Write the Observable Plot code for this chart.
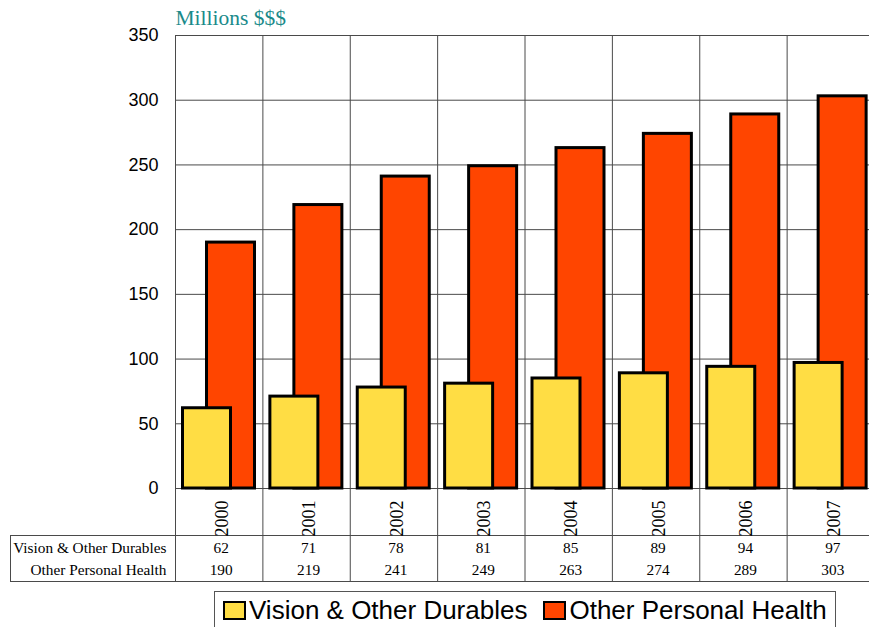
<!DOCTYPE html>
<html><head><meta charset="utf-8">
<script src="https://cdn.jsdelivr.net/npm/d3@7"></script>
<script src="https://cdn.jsdelivr.net/npm/@observablehq/plot@0.6"></script>
<style>
html,body{margin:0;padding:0;overflow:hidden;background:#fff;}
#wrap{position:relative;width:874px;height:627px;}
#legend{position:absolute;left:214px;top:591px;width:622px;height:40px;border:1px solid #555;box-sizing:border-box;background:#fff;
  font-family:Arial,"Liberation Sans",sans-serif;font-size:26px;color:#000;display:flex;align-items:flex-start;padding:3px 0 0 8px;white-space:nowrap;}
.item{display:flex;align-items:center;margin-right:16px;}
.sw{width:19px;height:15px;border:2.5px solid #000;margin-right:3px;}
</style></head>
<body><div id="wrap"><div id="chart"></div><div id="legend"></div></div>
<script>
const years = ["2000","2001","2002","2003","2004","2005","2006","2007"];
const vision = [62,71,78,81,85,89,94,97];
const personal = [190,219,241,249,263,274,289,303];
const seriesNames = ["Vision & Other Durables","Other Personal Health"];
const seriesColors = ["#FFDD44","#FF4500"];
const yTicks = [0,50,100,150,200,250,300,350];
const titleText = "Millions $$$";

const W = 874, ML = 175;
const bw = (W - ML) / years.length;
const rows = years.map((y,i)=>({year:y, vision:vision[i], personal:personal[i]}));
const serif = "'Liberation Serif','Times New Roman',serif";
const grid = "#4a4a4a";

const chart = Plot.plot({
  width: W, height: 627,
  marginLeft: ML, marginRight: 0, marginTop: 35, marginBottom: 139,
  style: {fontFamily: "Arial, 'Liberation Sans', sans-serif", fontSize: "18px", background: "#fff", color: "#000"},
  x: {domain: years, padding: 0, round: false, axis: null},
  y: {domain: [0,350], ticks: yTicks, tickSize: 0, tickPadding: 17, label: null},
  marks: [
    Plot.ruleY(yTicks, {stroke: grid, strokeWidth: 1}),
    Plot.ruleX(years, {x: d=>d, dx: -bw/2, stroke: grid, insetBottom: -93}),
    Plot.ruleY([0], {dy: 47, insetLeft: -165, stroke: grid}),
    Plot.ruleY([0], {dy: 93, insetLeft: -165, stroke: grid}),
    Plot.ruleX([years[0]], {x: d=>d, dx: -bw/2 - 165, insetTop: 500, insetBottom: -93, stroke: grid}),
    Plot.barY(rows, {x: "year", y: "personal", fill: seriesColors[1], stroke: "#000", strokeWidth: 3, insetLeft: 31.5, insetRight: bw - 79.5}),
    Plot.barY(rows, {x: "year", y: "vision", fill: seriesColors[0], stroke: "#000", strokeWidth: 3, insetLeft: 7.5, insetRight: bw - 55.5}),
    Plot.text(years, {x: d=>d, frameAnchor: "bottom", lineAnchor: "middle", dx: 3, dy: 30, rotate: -90, fontSize: 18, fontFamily: serif, fill: "#000"}),
    Plot.text(rows, {x: "year", text: "vision", frameAnchor: "bottom", dx: 2, dy: 64, fontSize: 15.3, fontFamily: serif, fill: "#000"}),
    Plot.text(rows, {x: "year", text: "personal", frameAnchor: "bottom", dx: 2, dy: 86, fontSize: 15.3, fontFamily: serif, fill: "#000"}),
    Plot.text([seriesNames[0]], {frameAnchor: "bottom-left", dx: -9, dy: 64, textAnchor: "end", fontSize: 15.3, fontFamily: serif, fill: "#000"}),
    Plot.text([seriesNames[1]], {frameAnchor: "bottom-left", dx: -9, dy: 86, textAnchor: "end", fontSize: 15.3, fontFamily: serif, fill: "#000"}),
    Plot.text([titleText], {frameAnchor: "top-left", dy: -26, textAnchor: "start", fontSize: 21.5, fontFamily: serif, fill: "#1a8a8a"})
  ]
});
document.getElementById("chart").appendChild(chart);

const leg = document.getElementById("legend");
seriesNames.forEach((n,i)=>{
  const it = document.createElement("div"); it.className = "item";
  const sw = document.createElement("div"); sw.className = "sw"; sw.style.background = seriesColors[i];
  const t = document.createElement("span"); t.textContent = n;
  it.appendChild(sw); it.appendChild(t); leg.appendChild(it);
});
</script></body></html>
